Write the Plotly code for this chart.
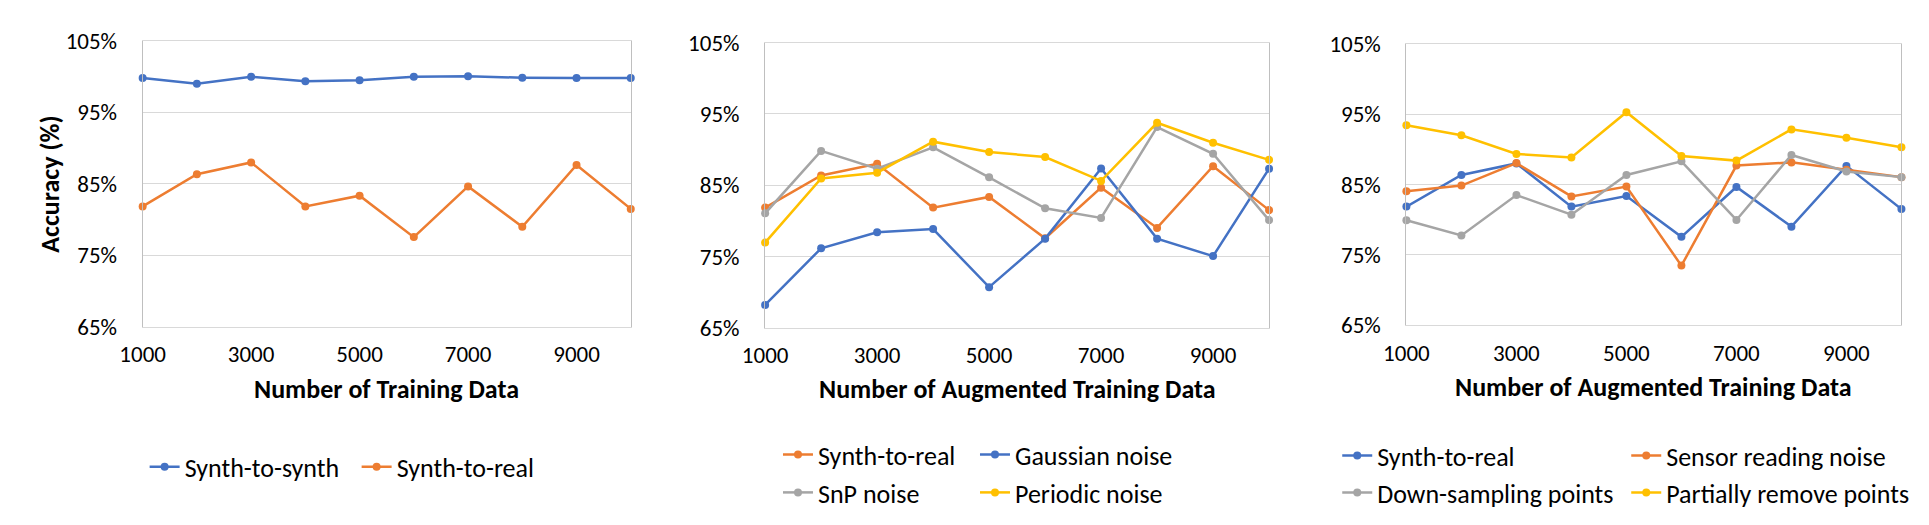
import plotly.graph_objects as go

# ---------------- data ----------------
x_vals = [1000, 2000, 3000, 4000, 5000, 6000, 7000, 8000, 9000, 10000]
x_ticks = [1000, 3000, 5000, 7000, 9000]
y_ticks = [65, 75, 85, 95, 105]
y_ticklabels = ["65%", "75%", "85%", "95%", "105%"]

# chart 1
synth_to_synth = [99.8, 99.0, 100.0, 99.35, 99.5, 100.0, 100.05, 99.85, 99.8, 99.8]
synth_to_real = [81.85, 86.35, 88.0, 81.85, 83.35, 77.55, 84.65, 79.0, 87.65, 81.5]

# chart 2
gaussian_noise = [68.2, 76.15, 78.4, 78.85, 70.7, 77.5, 87.35, 77.5, 75.05, 87.3]
snp_noise = [81.05, 89.8, 87.3, 90.3, 86.1, 81.75, 80.4, 93.15, 89.4, 80.1]
periodic_noise = [76.95, 85.95, 86.75, 91.1, 89.65, 88.95, 85.6, 93.75, 90.95, 88.55]

# chart 3
sensor_reading_noise = [84.05, 84.85, 88.05, 83.3, 84.7, 73.45, 87.7, 88.15, 87.1, 86.05]
down_sampling_points = [79.9, 77.75, 83.5, 80.7, 86.35, 88.3, 79.95, 89.2, 86.85, 86.05]
partially_remove_points = [93.45, 92.0, 89.35, 88.85, 95.3, 89.05, 88.4, 92.85, 91.65, 90.3]

x_title_1 = "Number of Training Data"
x_title_23 = "Number of Augmented Training Data"
y_title = "Accuracy (%)"

# ---------------- styling ----------------
W, H = 1929, 525
BLUE = "#4472C4"
ORANGE = "#ED7D31"
GRAY = "#A5A5A5"
GOLD = "#FFC000"
FONT = "Carlito, Lato, 'Noto Sans', sans-serif"
FS_TICK = 23
FS_TEXT = 26

def px_x(p):
    return p / W

def px_y(p):
    return 1 - p / H

# plot areas in pixels (left, right, top, bottom)
areas = [(113, 607, 20, 322), (743, 1253, 21.7, 323), (1392, 1893, 23.3, 320)]

fig = go.Figure()

def add(name, y, color, idx, legend):
    fig.add_trace(go.Scatter(
        x=x_vals, y=y, name=name, mode="lines+markers",
        line=dict(color=color, width=2.5),
        marker=dict(color=color, size=8),
        xaxis="x" if idx == 1 else f"x{idx}",
        yaxis="y" if idx == 1 else f"y{idx}",
        legend=legend, cliponaxis=False,
    ))

add("Synth-to-synth", synth_to_synth, BLUE, 1, "legend")
add("Synth-to-real", synth_to_real, ORANGE, 1, "legend")

add("Synth-to-real", synth_to_real, ORANGE, 2, "legend2")
add("Gaussian noise", gaussian_noise, BLUE, 2, "legend2")
add("SnP noise", snp_noise, GRAY, 2, "legend3")
add("Periodic noise", periodic_noise, GOLD, 2, "legend3")

add("Synth-to-real", synth_to_real, BLUE, 3, "legend4")
add("Sensor reading noise", sensor_reading_noise, ORANGE, 3, "legend4")
add("Down-sampling points", down_sampling_points, GRAY, 3, "legend5")
add("Partially remove points", partially_remove_points, GOLD, 3, "legend5")

layout = dict(
    width=W, height=H, autosize=False,
    margin=dict(l=0, r=0, t=0, b=0),
    paper_bgcolor="white", plot_bgcolor="white",
    font=dict(family=FONT, size=FS_TEXT, color="black"),
    annotations=[],
)

for i, (l, r, t, b) in enumerate(areas, start=1):
    xk = "xaxis" if i == 1 else f"xaxis{i}"
    yk = "yaxis" if i == 1 else f"yaxis{i}"
    ya = "y" if i == 1 else f"y{i}"
    xa = "x" if i == 1 else f"x{i}"
    layout[xk] = dict(
        domain=[px_x(l), px_x(r)], anchor=ya, range=[1000, 10000],
        tickvals=x_ticks, ticks="outside", ticklen=7, tickcolor="rgba(0,0,0,0)",
        showgrid=False, zeroline=False, showline=True, linecolor="#D9D9D9",
        linewidth=1, mirror=True, tickfont=dict(size=FS_TICK, family=FONT),
    )
    layout[yk] = dict(
        domain=[px_y(b), px_y(t)], anchor=xa, range=[65, 105],
        tickvals=y_ticks, ticktext=y_ticklabels, ticks="outside", ticklen=20,
        tickcolor="rgba(0,0,0,0)", showgrid=True, gridcolor="#D9D9D9", gridwidth=1,
        zeroline=False, showline=True, linecolor="#BFBFBF", linewidth=1, mirror=True,
        tickfont=dict(size=FS_TICK, family=FONT),
    )
    layout["annotations"].append(dict(
        text="<b>%s</b>" % (x_title_1 if i == 1 else x_title_23),
        xref="paper", yref="paper", x=px_x((l + r) / 2), y=px_y(388 if i < 3 else 386),
        xanchor="center", yanchor="middle", showarrow=False,
        font=dict(size=FS_TEXT, family=FONT),
    ))

layout["annotations"].append(dict(
    text="<b>%s</b>" % y_title, textangle=-90,
    xref="paper", yref="paper", x=px_x(19), y=px_y(171),
    xanchor="center", yanchor="middle", showarrow=False,
    font=dict(size=FS_TEXT, family=FONT),
))

def leg(x, y, ew):
    return dict(orientation="h", x=px_x(x), y=px_y(y), xanchor="left", yanchor="middle",
                entrywidth=ew, entrywidthmode="pixels", bgcolor="rgba(0,0,0,0)",
                font=dict(size=FS_TEXT, family=FONT), itemwidth=30, tracegroupgap=0)

layout["legend"] = leg(115, 470, 167)
layout["legend2"] = leg(756, 457, 152)
layout["legend3"] = leg(756, 497, 152)
layout["legend4"] = leg(1322, 458, 244)
layout["legend5"] = leg(1322, 497, 244)

fig.update_layout(**layout)
fig.write_html("out.html")
